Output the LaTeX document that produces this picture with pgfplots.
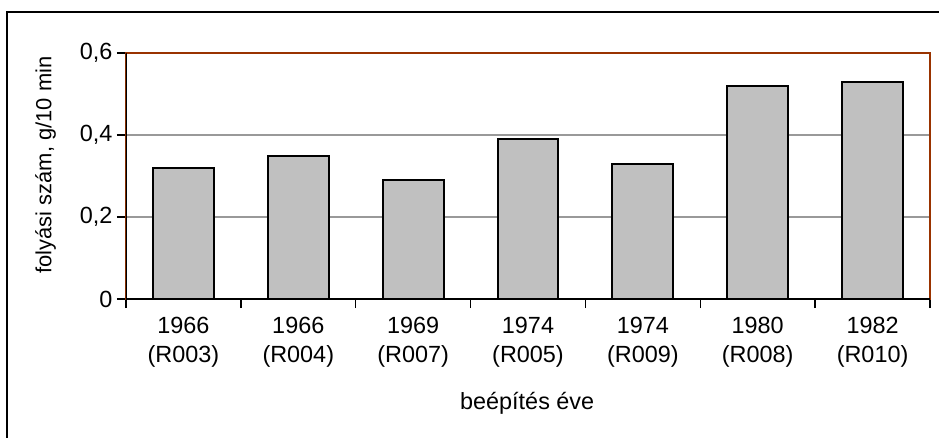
\documentclass[border=0pt]{standalone}
\usepackage{fontspec}
\setmainfont{Liberation Sans}
\usepackage{pgfplots}
\pgfplotsset{compat=1.18}
\definecolor{axbrown}{HTML}{993300}
\definecolor{gridgray}{HTML}{999999}
\definecolor{barfill}{HTML}{C0C0C0}
\begin{document}
\begin{tikzpicture}
\begin{axis}[
    at={(0,0)}, anchor=south west,
    scale only axis,
    width=804bp, height=246bp,
    font={\fontsize{23.5}{29}\selectfont},
    xmin=-0.5, xmax=6.5,
    ymin=0, ymax=0.6,
    xtick={-0.5,0.5,...,6.5},
    x tick label as interval,
    xticklabels={{1966\\(R003)},{1966\\(R004)},{1969\\(R007)},{1974\\(R005)},{1974\\(R009)},{1980\\(R008)},{1982\\(R010)}},
    xticklabel style={align=center, yshift=-6bp},
    ytick={0,0.2,0.4,0.6},
    yticklabels={0,{0,2},{0,4},{0,6}},
    yticklabel style={xshift=-1bp},
    xtick pos=bottom, ytick pos=left,
    tick align=outside,
    major tick length=9bp,
    tick style={black, line width=1.5bp},
    ymajorgrids,
    grid style={gridgray, line width=1.5bp},
    axis line style={axbrown, line width=1.5bp},
    ylabel={folyási szám, g/10 min},
    ylabel style={at={(axis description cs:-0.1,0.545)}, anchor=center, font={\fontsize{22}{26}\selectfont}},
    xlabel={beépítés éve},
    xlabel style={at={(axis description cs:0.499,-0.423)}, anchor=center},
    ybar, bar width=0.53,
]
\addplot[fill=barfill, draw=black, line width=2bp] coordinates {
    (0,0.32) (1,0.35) (2,0.29) (3,0.39) (4,0.33) (5,0.52) (6,0.53)
};
\draw[black, line width=1.5bp] (rel axis cs:0,1) -- (rel axis cs:0,0) -- (rel axis cs:1,0);
\end{axis}
\begin{pgfinterruptboundingbox}
\draw[line width=1.5bp] (-119bp,-160bp) -- (-119bp,287bp) -- (830bp,287bp);
\end{pgfinterruptboundingbox}
\path[use as bounding box] (-126bp,-139bp) rectangle (813bp,299bp);
\end{tikzpicture}
\end{document}
